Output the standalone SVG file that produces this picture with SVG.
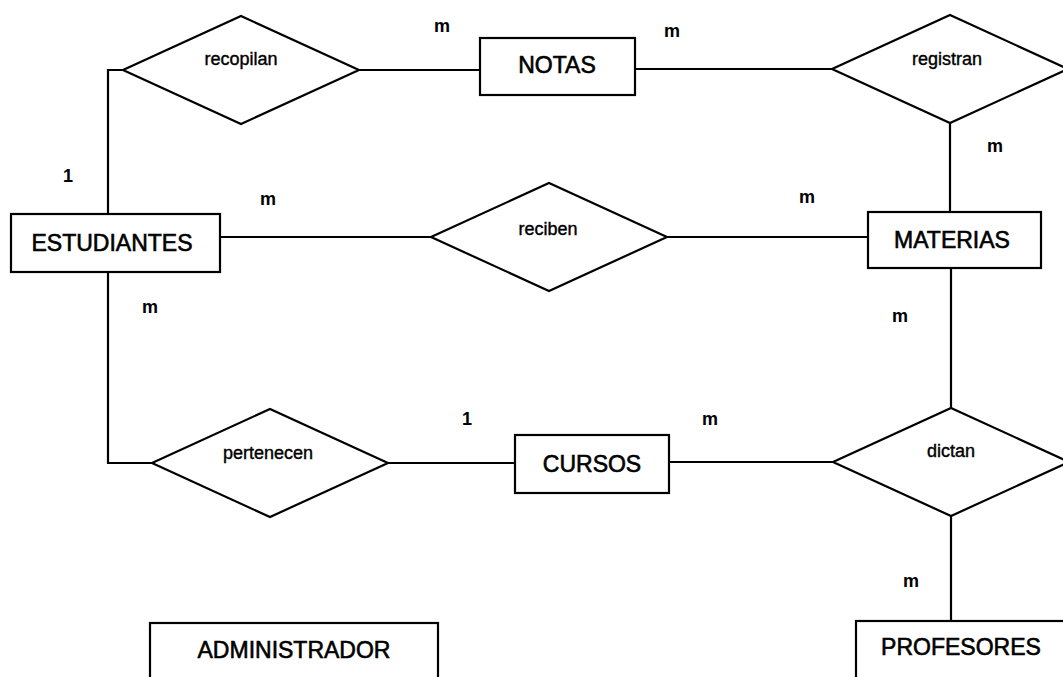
<svg xmlns="http://www.w3.org/2000/svg" width="1063" height="677" viewBox="0 0 1063 677">
<style>
.box{fill:#fff;stroke:#000;stroke-width:2.2}
.dia{fill:#fff;stroke:#000;stroke-width:2.2;stroke-linejoin:miter}
.ln{fill:none;stroke:#000;stroke-width:2.2}
.big{font-family:"Liberation Sans",Arial,sans-serif;font-size:23px;text-anchor:middle;fill:#000;stroke:#000;stroke-width:0.6}
.rel{font-family:"Liberation Sans",Arial,sans-serif;font-size:18px;text-anchor:middle;fill:#000;stroke:#000;stroke-width:0.4}
.card{font-family:"Liberation Sans",Arial,sans-serif;font-size:18px;font-weight:bold;text-anchor:middle;fill:#000}
</style>
<rect width="1063" height="677" fill="#fff"/>
<g id="connectors">
<polyline class="ln" points="108,214 108,70 123,70"/>
<line class="ln" x1="359" y1="70" x2="480" y2="70"/>
<line class="ln" x1="635" y1="69" x2="832" y2="69"/>
<line class="ln" x1="950" y1="123" x2="950" y2="212"/>
<line class="ln" x1="220" y1="237" x2="431" y2="237"/>
<line class="ln" x1="667" y1="237" x2="868" y2="237"/>
<polyline class="ln" points="108,272 108,463 152,463"/>
<line class="ln" x1="388" y1="463" x2="515" y2="463"/>
<line class="ln" x1="669" y1="462" x2="833" y2="462"/>
<line class="ln" x1="951" y1="268" x2="951" y2="408"/>
<line class="ln" x1="951" y1="516" x2="951" y2="621"/>
</g>
<g id="cardinalities">
<text class="card" x="442" y="32">m</text>
<text class="card" x="672" y="37">m</text>
<text class="card" x="995" y="152">m</text>
<text class="card" x="807" y="203">m</text>
<text class="card" x="68" y="182">1</text>
<text class="card" x="268" y="205">m</text>
<text class="card" x="150" y="313">m</text>
<text class="card" x="467" y="425">1</text>
<text class="card" x="710" y="425">m</text>
<text class="card" x="900" y="322">m</text>
<text class="card" x="911" y="587">m</text>
</g>
<g id="recopilan">
<polygon class="dia" points="123,70 241,16 359,70 241,124"/>
<text class="rel" x="241" y="65">recopilan</text>
</g>
<g id="registran">
<polygon class="dia" points="832,69 950,15 1068,69 950,123"/>
<text class="rel" x="947" y="65">registran</text>
</g>
<g id="reciben">
<polygon class="dia" points="431,237 549,183 667,237 549,291"/>
<text class="rel" x="548" y="235">reciben</text>
</g>
<g id="pertenecen">
<polygon class="dia" points="152,463 270,409 388,463 270,517"/>
<text class="rel" x="268" y="459">pertenecen</text>
</g>
<g id="dictan">
<polygon class="dia" points="833,462 951,408 1069,462 951,516"/>
<text class="rel" x="951" y="457">dictan</text>
</g>
<g id="estudiantes">
<rect class="box" x="11" y="214" width="209" height="58"/>
<text class="big" x="112" y="251">ESTUDIANTES</text>
</g>
<g id="notas">
<rect class="box" x="480" y="38" width="155" height="57"/>
<text class="big" x="557" y="73">NOTAS</text>
</g>
<g id="materias">
<rect class="box" x="868" y="212" width="173" height="56"/>
<text class="big" x="952" y="248">MATERIAS</text>
</g>
<g id="cursos">
<rect class="box" x="515" y="435" width="154" height="58"/>
<text class="big" x="592" y="472">CURSOS</text>
</g>
<g id="administrador">
<rect class="box" x="150" y="623" width="288" height="70"/>
<text class="big" x="294" y="658">ADMINISTRADOR</text>
</g>
<g id="profesores">
<rect class="box" x="856" y="621" width="210" height="70"/>
<text class="big" x="961" y="655">PROFESORES</text>
</g>
</svg>
